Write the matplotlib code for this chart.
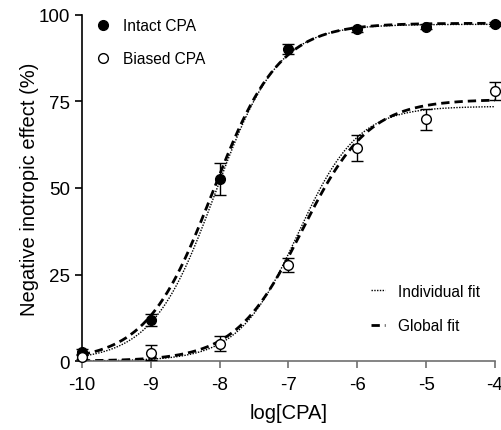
import numpy as np
import matplotlib
matplotlib.use("Agg")
import matplotlib.pyplot as plt
from matplotlib.lines import Line2D

plt.rcParams['font.family'] = ['Liberation Sans', 'DejaVu Sans']

log_cpa = [-10, -9, -8, -7, -6, -5, -4]
intact = [2.6, 11.8, 52.6, 90.2, 95.8, 96.6, 97.4]
intact_err = [0.8, 1.8, 4.5, 1.5, 0.8, 0.8, 0.6]
biased = [1.3, 2.4, 5.0, 27.7, 61.6, 69.8, 78.0]
biased_err = [0.8, 2.2, 2.2, 2.0, 3.8, 3.0, 2.6]

# sigmoid fit parameters: (top, logEC50, hill)
intact_individual = [97.3, -8.06, 0.95]
intact_global = [97.6, -8.10, 0.90]
biased_individual = [73.6, -6.86, 1.00]
biased_global = [75.6, -6.80, 0.90]


def sigmoid(x, p):
    top, ec, h = p
    return top / (1 + 10 ** ((ec - x) * h))


fig = plt.figure(figsize=(5.02, 4.31), dpi=100)
ax = fig.add_axes([0.163, 0.160, 0.823, 0.803])

xs = np.linspace(-10, -4, 400)
for p in (intact_individual, biased_individual):
    ax.plot(xs, sigmoid(xs, p), color='black', lw=1.0, ls=(0, (1, 1)), zorder=2)
for p in (intact_global, biased_global):
    ax.plot(xs, sigmoid(xs, p), color='black', lw=2.0, ls=(0, (3.0, 1.8)), zorder=2)

ax.errorbar(log_cpa, intact, yerr=intact_err, fmt='o', color='black', mfc='black',
            ms=7, capsize=4, elinewidth=1, capthick=1, clip_on=False, zorder=3)
ax.errorbar(log_cpa, biased, yerr=biased_err, fmt='o', color='black', mfc='white',
            ms=7, mew=1, capsize=4, elinewidth=1, capthick=1, clip_on=False, zorder=3)

ax.set_xlim(-10, -4)
ax.set_ylim(0, 100)
ax.set_xticks(log_cpa)
ax.set_xticklabels([str(v) for v in log_cpa])
ax.set_yticks([0, 25, 50, 75, 100])
for s in ('top', 'right'):
    ax.spines[s].set_visible(False)
ax.spines['left'].set_linewidth(1.2)
ax.spines['bottom'].set_linewidth(1.2)
ax.spines['bottom'].set_color('#707070')
ax.tick_params(axis='both', direction='out', length=5, width=1.2, labelsize=13.5)
ax.tick_params(axis='x', color='#707070', pad=6)
ax.set_xlabel('log[CPA]', fontsize=14.5, labelpad=7)
ax.set_ylabel('Negative inotropic effect (%)', fontsize=14.5, labelpad=0)

h1 = Line2D([], [], marker='o', color='black', mfc='black', ls='none', ms=7)
h2 = Line2D([], [], marker='o', color='black', mfc='white', ls='none', ms=7)
leg1 = ax.legend([h1, h2], ['Intact CPA', 'Biased CPA'], loc='upper left',
                 bbox_to_anchor=(-0.013, 1.022), frameon=False, fontsize=11.2,
                 handletextpad=0.3, labelspacing=1.15, borderaxespad=0.3)
ax.add_artist(leg1)
h3 = Line2D([], [], color='black', lw=1.0, ls=(0, (1, 1)))
h4 = Line2D([], [], color='black', lw=2.0, ls=(0, (3.0, 1.8)))
ax.legend([h3, h4], ['Individual fit', 'Global fit'], loc='lower right',
          bbox_to_anchor=(0.997, 0.04), frameon=False, fontsize=11.2,
          handlelength=0.9, handletextpad=0.85, labelspacing=1.25)

fig.savefig('out.png', dpi=100)
